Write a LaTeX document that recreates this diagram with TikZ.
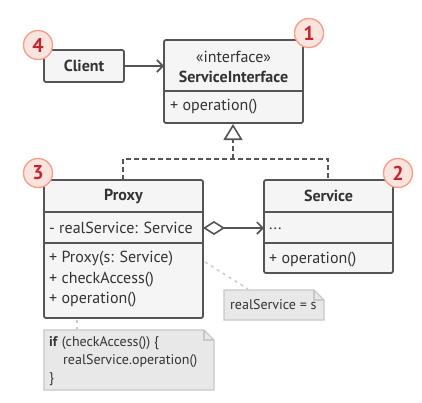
\documentclass[tikz,border=0pt]{standalone}
\usepackage{fontspec}
\setmainfont{PT Sans}
\usepackage{tikz}
\usetikzlibrary{positioning,calc,arrows.meta,shapes.geometric}
\definecolor{boxline}{RGB}{85,85,85}
\definecolor{boxfill}{RGB}{245,245,245}
\definecolor{txtgray}{RGB}{51,51,51}
\definecolor{notefill}{RGB}{232,232,232}
\definecolor{noteline}{RGB}{200,200,200}
\definecolor{badgefill}{RGB}{252,228,222}
\definecolor{badgeline}{RGB}{244,160,140}
\definecolor{badgetext}{RGB}{196,36,48}

\begin{document}
\begin{tikzpicture}[
      x=1pt, y=-1pt,
      font=\fontsize{16}{18}\selectfont, text=txtgray,
      umlbox/.style={rounded corners=2pt, draw=boxline, line width=1.8pt, fill=boxfill},
      sep/.style={draw=boxline, line width=1.8pt},
      cname/.style={font=\fontsize{16}{18}\selectfont\bfseries},
      member/.style={anchor=west, inner sep=2pt},
      badge/.style={circle, draw=badgeline, line width=1.4pt, fill=badgefill,
        minimum size=29pt, inner sep=0pt, text=badgetext,
        font=\fontsize{20}{20}\selectfont\bfseries},
      link/.style={draw=boxline, line width=1.8pt},
      notebox/.style={fill=notefill, draw=noteline, line width=1.4pt},
      noteline/.style={draw=noteline, line width=1.4pt, dash pattern=on 3pt off 4pt},
      notetext/.style={anchor=west, inner sep=2pt, font=\fontsize{14}{18}\selectfont}
    ]
    \useasboundingbox (0,0) rectangle (422,402);
    % ---------------- client ----------------
    \draw[umlbox] (44,50) rectangle (124,82);
    \node[cname] (client) at (84,66) {Client};
    \coordinate (clientE) at (124,66);
    % ---------------- service interface ----------------
    \draw[umlbox] (164,40) rectangle (303,123);
    \draw[sep] (164,91) -- (303,91);
    \node (stereo) at (233.5,57) {«interface»};
    \node[cname] (iface) at (233.5,77) {ServiceInterface};
    \node[member] (ifaceop) at (168,107) {+ operation()};
    \coordinate (ifaceW) at (164,66);
    \coordinate (ifaceS) at (233,124);
    % ---------------- proxy ----------------
    \draw[umlbox] (44,180) rectangle (203,318);
    \draw[sep] (44,212) -- (203,212);
    \draw[sep] (44,243) -- (203,243);
    \node[cname] (proxy) at (123.5,196) {Proxy};
    \node[member] (realsvc) at (47,228) {- realService: Service};
    \node[member] (ctor) at (47,259) {+ Proxy(s: Service)};
    \node[member] (check) at (47,280) {+ checkAccess()};
    \node[member] (proxyop) at (47,300) {+ operation()};
    \coordinate (proxyN) at (123,180);
    \coordinate (proxyE) at (203,228);
    % ---------------- service ----------------
    \draw[umlbox] (264,180) rectangle (393,273);
    \draw[sep] (264,212) -- (393,212);
    \draw[sep] (264,243) -- (393,243);
    \node[cname] (service) at (328.5,196) {Service};
    \node[member] (dots) at (267,229) {...};
    \node[member] (svcop) at (267,260) {+ operation()};
    \coordinate (serviceN) at (328,180);
    \coordinate (serviceW) at (264,228);
    % ---------------- notes ----------------
    \draw[notebox] (224,290) -- (314,290) -- (324,300) -- (324,320) -- (224,320) -- cycle;
    \draw[noteline, solid] (314,290) -- (314,300) -- (324,300);
    \node[notetext] (assign) at (228,305) {realService = s};
    \draw[notebox] (44,330) -- (204,330) -- (214,340) -- (214,390) -- (44,390) -- cycle;
    \draw[noteline, solid] (204,330) -- (204,340) -- (214,340);
    \node[notetext, align=left] (code) at (47,361)
      {\textbf{if} (checkAccess()) \{\\\hspace{14pt}realService.operation()\\\}};
    % ---------------- connectors ----------------
    \draw[link, -{Straight Barb[length=6pt, width=12pt, line width=1.6pt]}] (clientE) -- (ifaceW);
    \coordinate (tribase) at (233,140);
    \draw[link, dash pattern=on 5pt off 3pt, line width=1.6pt]
      (proxyN) |- (233,159) -| (serviceN);
    \draw[link, dash pattern=on 5pt off 3pt, line width=1.6pt] (233,159) -- (tribase);
    \draw[link, line width=1.6pt, -{Triangle[open, length=16pt, width=19pt, line width=1.6pt]}]
      (tribase) -- (ifaceS);
    \draw[link, line width=1.6pt,
      {Diamond[open, length=22pt, width=14pt, line width=1.6pt]}-{Straight Barb[length=6pt, width=12pt, line width=1.6pt]}]
      (proxyE) -- (serviceW);
    \draw[noteline] (205,262) -- (248,289);
    \draw[noteline] (77,320) -- (77,329);
    % ---------------- badges ----------------
    \node[badge] (b1) at (309,33) {1};
    \node[badge] (b2) at (398,173) {2};
    \node[badge] (b3) at (38,173) {3};
    \node[badge] (b4) at (38,45) {4};
  \end{tikzpicture}
\end{document}
